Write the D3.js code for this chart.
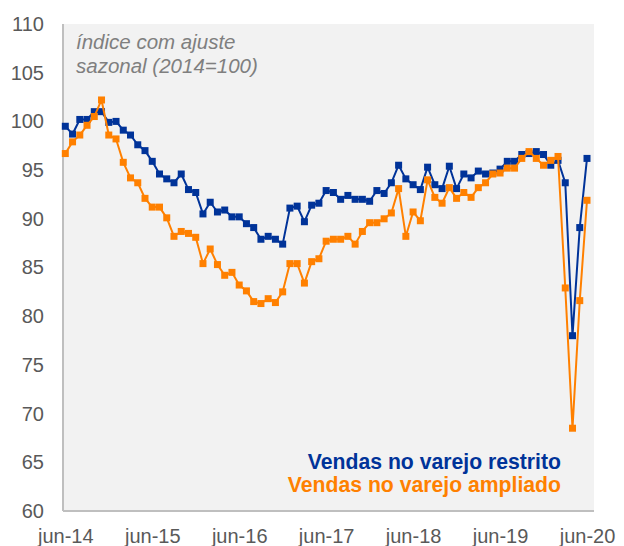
<!DOCTYPE html>
<html>
<head>
<meta charset="utf-8">
<script src="https://cdn.jsdelivr.net/npm/d3@7"></script>
<style>
      body { margin: 0; background: #ffffff; }
      svg { display: block; font-family: "Liberation Sans", Arial, sans-serif; }
</style>
</head>
<body>
<svg id="drawing_region"></svg>
<script>
// indices mensais, jun-14 .. jun-20
const restrito = [99.5, 98.7, 100.2, 100.2, 101.0, 101.0, 99.9, 100.0, 99.1, 98.6, 97.6, 97.0,
      95.9, 94.6, 94.1, 93.7, 94.6, 93.0, 92.7, 90.5, 91.7, 90.7, 90.9, 90.2,
      90.2, 89.5, 89.1, 87.9, 88.2, 87.9, 87.4, 91.1, 91.3, 89.7, 91.4, 91.6,
      92.9, 92.7, 92.0, 92.4, 92.0, 92.0, 91.8, 92.9, 92.6, 93.7, 95.5, 94.1,
      93.5, 93.0, 95.3, 93.5, 93.1, 95.4, 93.1, 94.6, 94.2, 94.9, 94.6, 94.7,
      95.1, 95.9, 95.9, 96.6, 96.7, 96.9, 96.6, 95.5, 96.0, 93.7, 78.0, 89.1,
      96.2];

const ampliado = [96.7, 97.9, 98.6, 99.6, 100.5, 102.2, 98.6, 98.2, 95.8, 94.2, 93.7, 92.1,
      91.2, 91.2, 90.1, 88.2, 88.7, 88.5, 88.1, 85.4, 86.9, 85.3, 84.2, 84.5,
      83.2, 82.6, 81.5, 81.3, 81.8, 81.4, 82.5, 85.4, 85.4, 83.4, 85.6, 85.9,
      87.7, 87.9, 87.9, 88.2, 87.4, 88.7, 89.6, 89.6, 90.0, 90.6, 93.1, 88.2,
      90.7, 89.8, 94.0, 92.2, 91.6, 93.2, 92.1, 92.7, 92.2, 93.2, 93.7, 94.6,
      94.7, 95.2, 95.2, 96.2, 96.9, 96.2, 95.5, 96.0, 96.4, 82.9, 68.5, 81.6,
      91.9];

const xlabels = ['jun-14', 'jun-15', 'jun-16', 'jun-17', 'jun-18', 'jun-19', 'jun-20'];
const yticks = [60, 65, 70, 75, 80, 85, 90, 95, 100, 105, 110];
const series_names = ['Vendas no varejo restrito', 'Vendas no varejo ampliado'];
const note_lines = ['índice com ajuste', 'sazonal (2014=100)'];

class LineChart{

      constructor(config, series){
            this.config = {
                  parent: config.parent,
                  width: config.width || 256,
                  height: config.height || 128,
                  margin: config.margin || {top:10, right:10, bottom:10, left:10}
            }
            this.series = series;
            this.init();
      }

      init(){
            let self = this;

            self.svg = d3.select( self.config.parent )
                  .attr('width', self.config.width)
                  .attr('height', self.config.height);

            self.inner_width = self.config.width - self.config.margin.left - self.config.margin.right;
            self.inner_height = self.config.height - self.config.margin.top - self.config.margin.bottom;

            self.chart = self.svg.append('g')
                  .attr('transform', `translate(${self.config.margin.left}, ${self.config.margin.top})`);

            self.chart.append('rect')
                  .attr('width', self.inner_width)
                  .attr('height', self.inner_height)
                  .attr('fill', '#f2f2f2');

            // months sit a little inside the plot area
            self.xscale = d3.scaleLinear()
                  .range( [2.3, self.inner_width - 7] );

            self.yscale = d3.scaleLinear()
                  .range( [self.inner_height, 0] );

            self.xaxis = d3.axisBottom( self.xscale )
                  .tickSize(0)
                  .tickPadding(18);

            self.yaxis = d3.axisLeft( self.yscale )
                  .tickValues( yticks )
                  .tickSize(0)
                  .tickPadding(19);

            self.xaxis_group = self.chart.append('g')
                  .attr('transform', `translate(0, ${self.inner_height})`);

            self.yaxis_group = self.chart.append('g');

            self.lines_group = self.chart.append('g');
      }

      update(){
            let self = this;
            const n = self.series[0].values.length;
            self.xscale.domain( [0, n - 1] );
            self.yscale.domain( [d3.min(yticks), d3.max(yticks)] );
            self.xaxis
                  .tickValues( xlabels.map((d, i) => i * 12) )
                  .tickFormat( (d, i) => xlabels[i] );
            self.render();
      }

      render(){
            let self = this;

            const line = d3.line()
                  .x( (d, i) => self.xscale(i) )
                  .y( d => self.yscale(d) );

            const groups = self.lines_group.selectAll('g.series')
                  .data(self.series)
                  .join('g')
                  .attr('class', 'series');

            groups.append('path')
                  .attr('d', d => line(d.values))
                  .attr('fill', 'none')
                  .attr('stroke', d => d.color)
                  .attr('stroke-width', 2)
                  .attr('stroke-linejoin', 'round');

            const msize = 7;
            groups.selectAll('rect')
                  .data(d => d.values.map(v => ({v: v, c: d.color})))
                  .join('rect')
                  .attr('x', (d, i) => self.xscale(i) - msize / 2)
                  .attr('y', d => self.yscale(d.v) - msize / 2)
                  .attr('width', msize)
                  .attr('height', msize)
                  .attr('fill', d => d.c);

            self.xaxis_group.call( self.xaxis );
            self.yaxis_group.call( self.yaxis );

            self.svg.selectAll('.domain')
                  .attr('stroke', '#bfbfbf')
                  .attr('stroke-width', 2);
            self.yaxis_group.select('.domain').attr('d', `M0,0V${self.inner_height}`);
            self.xaxis_group.select('.domain').attr('d', `M0,0H${self.inner_width}`);

            self.svg.selectAll('.tick text')
                  .attr('fill', '#595959')
                  .style('font-size', '20px');

            // note at top left
            self.chart.append('text')
                  .attr('x', 13)
                  .attr('y', 25)
                  .attr('fill', '#7f7f7f')
                  .style('font-size', '20.5px')
                  .style('font-style', 'italic')
                  .selectAll('tspan')
                  .data(note_lines)
                  .join('tspan')
                  .attr('x', 13)
                  .attr('dy', (d, i) => i == 0 ? 0 : 24)
                  .text(d => d);

            // legend as text only
            self.chart.selectAll('text.legend')
                  .data(self.series)
                  .join('text')
                  .attr('class', 'legend')
                  .attr('x', 498)
                  .attr('y', (d, i) => 445 + i * 23)
                  .attr('text-anchor', 'end')
                  .attr('fill', d => d.color)
                  .style('font-size', '21.2px')
                  .style('font-weight', 'bold')
                  .text(d => d.name);
      }
}

let chart = new LineChart({
      parent: '#drawing_region',
      width: 624,
      height: 546,
      margin: {top:24, right:30, bottom:35, left:63}
}, [
      {name: series_names[0], values: restrito, color: '#003399'},
      {name: series_names[1], values: ampliado, color: '#ff8000'}
]);
chart.update();
</script>
</body>
</html>
